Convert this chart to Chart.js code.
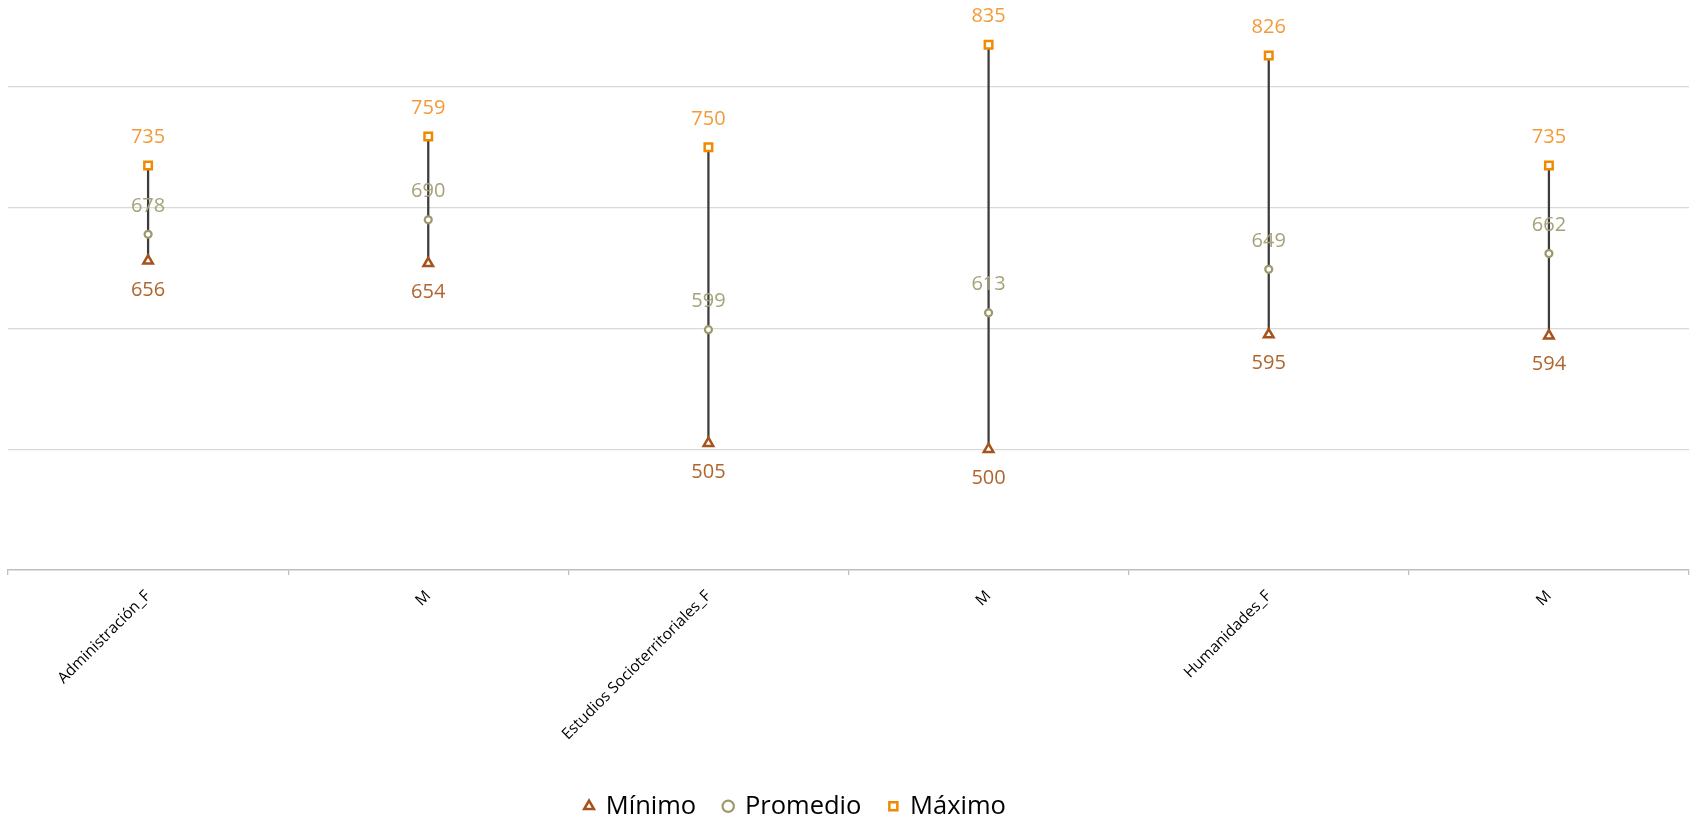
<!DOCTYPE html>
<html>
<head>
<meta charset="utf-8">
<script src="https://cdn.jsdelivr.net/npm/chart.js@4/dist/chart.umd.min.js"></script>
<style>
html,body{margin:0;padding:0;background:#fff;}
#wrap{width:1691px;height:822px;position:relative;}
</style>
</head>
<body>
<div id="wrap"><canvas id="c" width="1691" height="822"></canvas></div>
<script>
const categories = ["Administración_F", "M", "Estudios Socioterritoriales_F", "M", "Humanidades_F", "M"];
const minimo = [656, 654, 505, 500, 595, 594];
const promedio = [678, 690, 599, 613, 649, 662];
const maximo = [735, 759, 750, 835, 826, 735];
const yTicks = [500, 600, 700, 800];

const FONT = "'Open Sans', 'DejaVu Sans', sans-serif";

const labelPlugin = {
  id: 'pointLabels',
  afterDatasetsDraw(chart) {
    const ctx = chart.ctx;
    chart.data.datasets.forEach((ds, di) => {
      if (!ds.labelColor) return;
      const meta = chart.getDatasetMeta(di);
      ctx.save();
      ctx.font = "20px " + FONT;
      ctx.fillStyle = ds.labelColor;
      ctx.textAlign = 'center';
      ctx.textBaseline = 'middle';
      meta.data.forEach((pt, i) => {
        ctx.fillText(String(ds.data[i]), pt.x, pt.y + ds.labelOffset);
      });
      ctx.restore();
    });
  }
};

const legendShift = {
  id: 'legendShift',
  afterLayout(chart) {
    const L = chart.legend;
    if (L) { L.left -= 53; L.right -= 53; }
  }
};

new Chart(document.getElementById('c'), {
  data: {
    labels: categories,
    datasets: [
      {
        type: 'line', label: 'Mínimo', data: minimo, showLine: false,
        pointStyle: 'triangle', pointRadius: 5.5, pointBorderWidth: 2.5,
        pointBackgroundColor: '#ffffff', pointBorderColor: '#A5521B',
        borderColor: '#A5521B', backgroundColor: '#ffffff',
        labelColor: '#B0652E', labelOffset: 29, order: 1
      },
      {
        type: 'line', label: 'Promedio', data: promedio, showLine: false,
        pointStyle: 'circle', pointRadius: 3.5, pointBorderWidth: 2.2,
        pointBackgroundColor: '#ffffff', pointBorderColor: '#9C9A6A',
        borderColor: '#9C9A6A', backgroundColor: '#ffffff',
        labelColor: '#A6A27A', labelOffset: -28, order: 1
      },
      {
        type: 'line', label: 'Máximo', data: maximo, showLine: false,
        pointStyle: 'rect', pointRadius: 5.3, pointBorderWidth: 2.5,
        pointBackgroundColor: '#ffffff', pointBorderColor: '#F08A00',
        borderColor: '#F08A00', backgroundColor: '#ffffff',
        labelColor: '#F39B3A', labelOffset: -28, order: 1
      },
      {
        type: 'bar', label: 'hl', data: minimo.map((v, i) => [v, maximo[i]]),
        backgroundColor: '#3c3c3c', borderWidth: 0, barThickness: 1.6, order: 10
      }
    ]
  },
  options: {
    responsive: false,
    animation: false,
    layout: { autoPadding: false, padding: { left: 8, right: 2, top: 0, bottom: -7 } },
    plugins: {
      tooltip: { enabled: false },
      legend: {
        position: 'bottom',
        labels: {
          filter: (item) => item.text !== 'hl',
          usePointStyle: true,
          boxHeight: 8,
          boxWidth: 8,
          padding: 28,
          color: '#000000',
          font: { family: FONT, size: 25.5 }
        }
      }
    },
    scales: {
      x: {
        offset: true,
        grid: { display: true, drawOnChartArea: false, drawTicks: true, tickLength: 5, offset: true, color: '#bfbfbf', lineWidth: 1.3 },
        border: { display: true, color: '#bfbfbf', width: 1.5 },
        ticks: { autoSkip: false, minRotation: 45, maxRotation: 45, color: '#000000', font: { family: FONT, size: 15.5 }, padding: 12 },
        afterFit: (s) => { s.height = 195.5; }
      },
      y: {
        min: 400, max: 872,
        afterBuildTicks: (s) => { s.ticks = [400].concat(yTicks).map(v => ({ value: v })); },
        ticks: { display: false },
        grid: { drawTicks: false, color: (c) => (c.tick && c.tick.value === 400) ? 'rgba(0,0,0,0)' : '#d9d9d9', lineWidth: 1.3 },
        border: { display: false }
      }
    }
  },
  plugins: [labelPlugin, legendShift]
});
</script>
</body>
</html>
